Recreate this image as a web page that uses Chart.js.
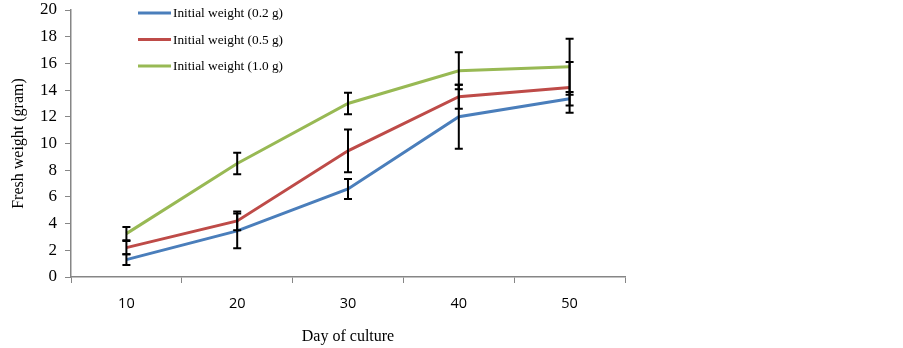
<!DOCTYPE html>
<html>
<head>
<meta charset="utf-8">
<script src="https://cdn.jsdelivr.net/npm/chart.js@4/dist/chart.umd.min.js"></script>
<style>
html,body{margin:0;padding:0;background:#fff;}
#wrap{width:903px;height:348px;position:relative;}
</style>
</head>
<body>
<div id="wrap"><canvas id="c" width="903" height="348"></canvas></div>
<script>
const days = ['10', '20', '30', '40', '50'];
const seriesLabels = ['Initial weight (0.2 g)', 'Initial weight (0.5 g)', 'Initial weight (1.0 g)'];
const w02 = [1.3, 3.45, 6.6, 12.0, 13.35];
const err02 = [0.4, 1.3, 0.75, 2.4, 0.5];
const w05 = [2.2, 4.2, 9.45, 13.5, 14.2];
const err05 = [0.5, 0.7, 1.6, 0.9, 1.9];
const w10 = [3.25, 8.5, 13.0, 15.45, 15.75];
const err10 = [0.5, 0.8, 0.8, 1.38, 2.1];
const yTicks = [0, 2, 4, 6, 8, 10, 12, 14, 16, 18, 20];

const colors = ['#4A7EBB', '#BE4B48', '#98B954'];
const errs = [err02, err05, err10];

const errorBars = {
  id: 'errorBars',
  afterDatasetsDraw(chart) {
    const ctx = chart.ctx;
    const xs = chart.scales.x, ys = chart.scales.y;
    ctx.save();
    ctx.strokeStyle = '#000';
    ctx.lineWidth = 2;
    chart.data.datasets.forEach((ds, di) => {
      const e = errs[di];
      ds.data.forEach((v, i) => {
        const x = xs.getPixelForValue(i);
        const yt = ys.getPixelForValue(v + e[i]);
        const yb = ys.getPixelForValue(v - e[i]);
        ctx.beginPath();
        ctx.moveTo(x, yt); ctx.lineTo(x, yb);
        ctx.moveTo(x - 4, yt); ctx.lineTo(x + 4, yt);
        ctx.moveTo(x - 4, yb); ctx.lineTo(x + 4, yb);
        ctx.stroke();
      });
    });
    ctx.restore();
  }
};

const customLegend = {
  id: 'customLegend',
  afterDraw(chart) {
    const ctx = chart.ctx;
    ctx.save();
    ctx.font = '13.3px "Liberation Serif", "Times New Roman", serif';
    ctx.textBaseline = 'middle';
    ctx.fillStyle = '#000';
    chart.data.datasets.forEach((ds, i) => {
      const y = 13 + i * 26.5;
      ctx.strokeStyle = ds.borderColor;
      ctx.lineWidth = 3;
      ctx.beginPath();
      ctx.moveTo(138, y); ctx.lineTo(171, y);
      ctx.stroke();
      ctx.fillText(ds.label, 173, y + 1);
    });
    ctx.restore();
  }
};

new Chart(document.getElementById('c'), {
  type: 'line',
  data: {
    labels: days,
    datasets: [
      { label: seriesLabels[0], data: w02, borderColor: colors[0], backgroundColor: colors[0] },
      { label: seriesLabels[1], data: w05, borderColor: colors[1], backgroundColor: colors[1] },
      { label: seriesLabels[2], data: w10, borderColor: colors[2], backgroundColor: colors[2] }
    ]
  },
  options: {
    responsive: false,
    animation: false,
    devicePixelRatio: 1,
    layout: { padding: { left: 9, right: 278, top: 10, bottom: 0 } },
    elements: {
      line: { borderWidth: 3, tension: 0 },
      point: { radius: 0, hoverRadius: 0 }
    },
    plugins: {
      legend: { display: false },
      tooltip: { enabled: false }
    },
    scales: {
      x: {
        offset: true,
        afterFit(scale) { scale.height = 71; scale.paddingLeft = 0; scale.paddingRight = 0; },
        grid: { offset: true, drawOnChartArea: false, drawTicks: true, tickLength: 6, color: '#868686', lineWidth: 1 },
        border: { color: '#868686', width: 1.5 },
        ticks: { color: '#000', font: { family: '"Open Sans", "Liberation Sans", sans-serif', size: 14.5 }, padding: 12 },
        title: { display: true, text: 'Day of culture', color: '#000', font: { family: '"Liberation Serif", "Times New Roman", serif', size: 16 }, padding: { top: 10, bottom: 2 } }
      },
      y: {
        min: 0, max: 20,
        afterBuildTicks(scale) { scale.ticks = yTicks.map(v => ({ value: v })); },
        afterFit(scale) { scale.width = 62; scale.paddingTop = 0; scale.paddingBottom = 0; },
        grid: { drawOnChartArea: false, drawTicks: true, tickLength: 6, color: '#868686', lineWidth: 1 },
        border: { color: '#868686', width: 1.5 },
        ticks: { color: '#000', font: { family: '"Liberation Serif", "Times New Roman", serif', size: 17 }, padding: 8 },
        title: { display: true, text: 'Fresh weight (gram)', color: '#000', font: { family: '"Liberation Serif", "Times New Roman", serif', size: 16 }, padding: { top: 0, bottom: 12 } }
      }
    }
  },
  plugins: [errorBars, customLegend]
});
</script>
</body>
</html>
